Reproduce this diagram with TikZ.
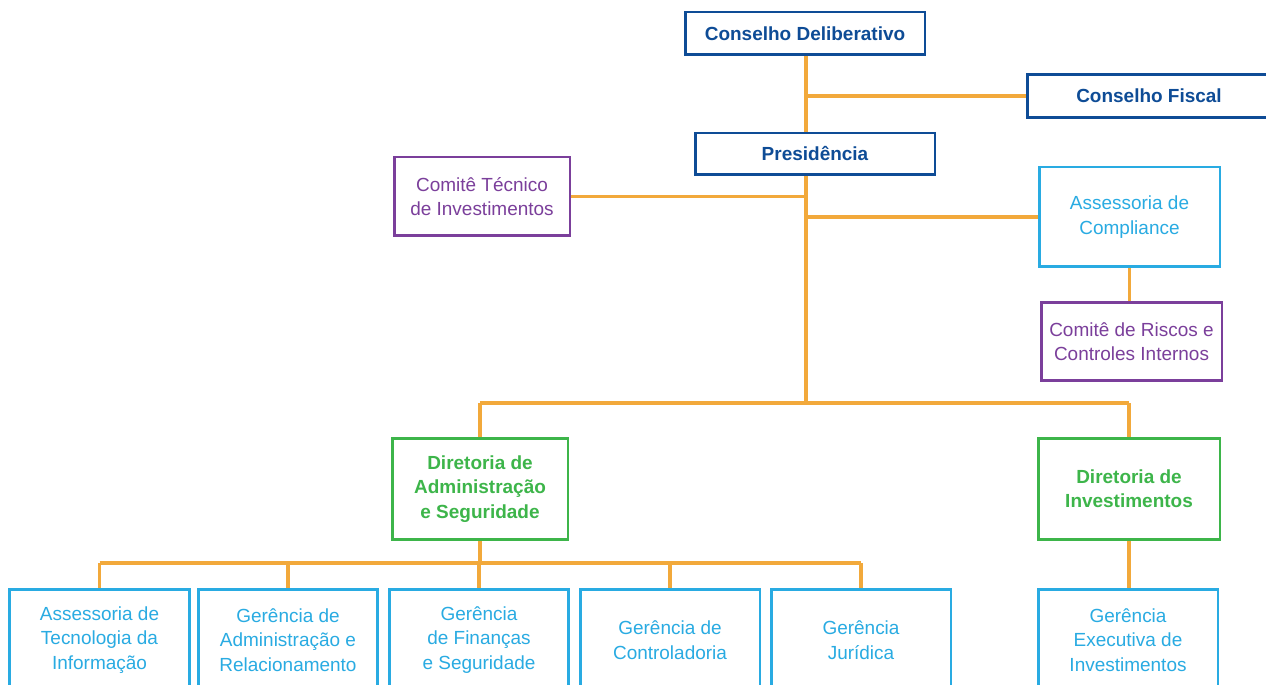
\documentclass[tikz,border=0pt]{standalone}
\usepackage{fontspec}
\setmainfont{Liberation Sans}
\usepackage{tikz}
\definecolor{navyC}{RGB}{14,76,150}
\definecolor{orangeC}{RGB}{242,169,59}
\definecolor{cyanC}{RGB}{41,171,226}
\definecolor{purpleC}{RGB}{123,63,155}
\definecolor{greenC}{RGB}{61,181,74}
\begin{document}
\begin{tikzpicture}[x=0.02cm, y=-0.02cm,
  box/.style={draw, fill=white, line width=1.7pt, align=center, inner sep=2pt,
    font=\fontsize{10.8}{13.9}\selectfont},
  council/.style={box, draw=navyC, text=navyC, font=\bfseries\fontsize{10.8}{13.9}\selectfont,
    minimum width=4.8cm, minimum height=0.86cm},
  committee/.style={box, draw=purpleC, text=purpleC, minimum height=1.58cm},
  unit/.style={box, draw=cyanC, text=cyanC, minimum height=2.04cm},
  board/.style={box, draw=greenC, text=greenC, font=\bfseries\fontsize{10.8}{13.9}\selectfont,
    minimum height=2.04cm},
  link/.style={draw=orangeC, line width=1.8pt}]
\clip (0,0) rectangle (1266,685);
%\draw[black, thick] (0,0) rectangle (1266,685);
\node[council] (delib) at (805,33.5) {Conselho Deliberativo};
\node[council, minimum width=4.88cm] (fiscal) at (1149,96) {Conselho Fiscal};
\node[council, minimum height=0.84cm] (pres) at (815,154) {Presidência};
\node[committee, minimum width=3.52cm] (ctec) at (482,196.5) {Comitê Técnico\\de Investimentos};
\node[unit, minimum width=3.62cm, minimum height=2cm] (compl) at (1129.5,217) {Assessoria de\\Compliance};
\node[committee, minimum width=3.62cm] (riscos) at (1131.5,341.5) {Comitê de Riscos e\\Controles Internos};
\node[board, minimum width=3.52cm] (dadm) at (480,489) {Diretoria de\\Administração\\e Seguridade};
\node[board, minimum width=3.64cm] (dinv) at (1129,489) {Diretoria de\\Investimentos};
\node[unit, minimum width=3.6cm] (gti) at (99.5,640) {Assessoria de\\Tecnologia da\\Informação};
\node[unit, minimum width=3.6cm] (gadm) at (288,640) {Gerência de\\Administração e\\Relacionamento};
\node[unit, minimum width=3.6cm] (gfin) at (479,640) {Gerência\\de Finanças\\e Seguridade};
\node[unit, minimum width=3.6cm] (gctl) at (670,640) {Gerência de\\Controladoria};
\node[unit, minimum width=3.6cm] (gjur) at (861,640) {Gerência\\Jurídica};
\node[unit, minimum width=3.6cm] (gexe) at (1128,640) {Gerência\\Executiva de\\Investimentos};
\coordinate (hub) at (806,403);
\coordinate (bus) at (480,563);
\draw[link] (delib.south -| hub) -- (pres.north -| hub);
\draw[link] (pres.south -| hub) -- (hub);
\draw[link] (fiscal.west -| hub) -- (fiscal.west);
\draw[link] (ctec.east) -- (ctec.east -| hub);
\draw[link] (compl.west -| hub) -- (compl.west);
\draw[link] (compl.south) -- (compl.south |- riscos.north);
\draw[link] (dadm.north |- hub) -- (dinv.north |- hub);
\draw[link] (dadm.north |- hub) -- (dadm.north);
\draw[link] (dinv.north |- hub) -- (dinv.north);
\draw[link] (dadm.south) -- (bus);
\draw[link] (gti.north |- bus) -- (gjur.north |- bus);
\foreach \g in {gti,gadm,gfin,gctl,gjur}
  \draw[link] (\g.north |- bus) -- (\g.north);
\draw[link] (dinv.south) -- (dinv.south |- gexe.north);
\end{tikzpicture}
\end{document}
